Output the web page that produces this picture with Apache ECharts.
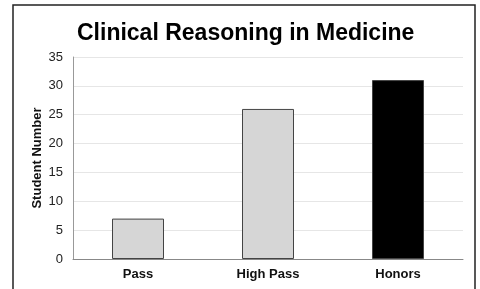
<!DOCTYPE html>
<html>
<head>
<meta charset="utf-8">
<script src="https://cdn.jsdelivr.net/npm/echarts@6/dist/echarts.min.js"></script>
<style>
  html, body { margin: 0; padding: 0; background: #fff; }
  #main { width: 480px; height: 289px; }
</style>
</head>
<body>
<div id="main"></div>
<script>
var categories = ['Pass', 'High Pass', 'Honors'];
var counts = [7, 26, 31];
var barColors = ['#d6d6d6', '#d6d6d6', '#000000'];

var chart = echarts.init(document.getElementById('main'));

var option = {
    backgroundColor: '#fff',
    animation: false,
    title: {
        text: 'Clinical Reasoning in Medicine',
        left: 72,
        top: 17,
        textStyle: {
            fontFamily: 'Liberation Sans, Arial, sans-serif',
            fontSize: 23,
            fontWeight: 'bold',
            color: '#000'
        }
    },
    graphic: [{
        type: 'rect',
        shape: { x: 13, y: 5, width: 462, height: 300 },
        style: { fill: 'none', stroke: '#222', lineWidth: 1.5 },
        silent: true
    }],
    grid: { left: 73, right: 17, top: 57, bottom: 30 },
    xAxis: {
        type: 'category',
        data: categories,
        axisLine: { lineStyle: { color: '#888' } },
        axisTick: { show: false },
        axisLabel: {
            fontFamily: 'Liberation Sans, Arial, sans-serif',
            fontSize: 13,
            fontWeight: 'bold',
            color: '#111',
            margin: 9
        }
    },
    yAxis: {
        type: 'value',
        min: 0,
        max: 35,
        interval: 5,
        name: 'Student Number',
        nameLocation: 'middle',
        nameGap: 29,
        nameMoveOverlap: false,
        nameTextStyle: {
            fontFamily: 'Liberation Sans, Arial, sans-serif',
            fontSize: 13,
            fontWeight: 'bold',
            color: '#111'
        },
        axisLine: { show: true, lineStyle: { color: '#999' } },
        axisTick: { show: false },
        axisLabel: {
            fontFamily: 'Liberation Sans, Arial, sans-serif',
            fontSize: 13,
            color: '#222',
            margin: 10
        },
        splitLine: { lineStyle: { color: '#e6e6e6', width: 1 } }
    },
    series: [{
        type: 'bar',
        barWidth: '40%',
        data: counts.map(function (v, i) {
            return {
                value: v,
                itemStyle: { color: barColors[i], borderColor: '#444', borderWidth: 1 }
            };
        })
    }]
};

chart.setOption(option);
</script>
</body>
</html>
